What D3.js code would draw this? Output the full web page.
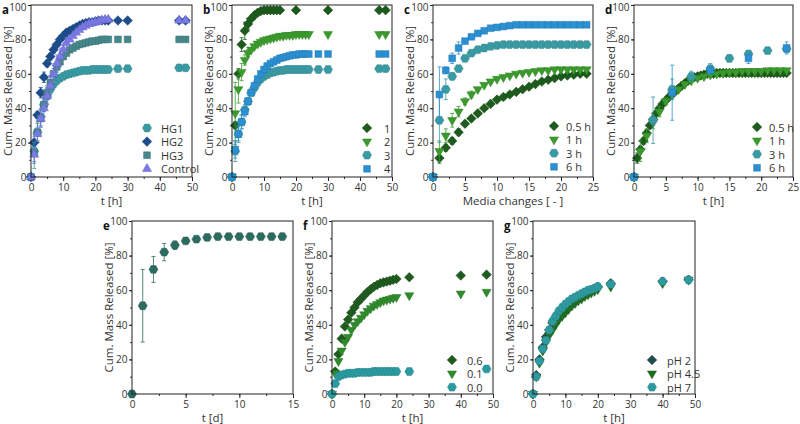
<!DOCTYPE html>
<html>
<head>
<meta charset="utf-8">
<script src="https://d3js.org/d3.v7.min.js"></script>
<style>
  body { margin: 0; background: #fff; }
  svg { display: block; font-family: "Open Sans", sans-serif; }
</style>
</head>
<body>
<svg id="chart" width="800" height="424"></svg>
<script>
// ---- data ----
// panel a
const aTime = [0,1,2,3,4,5,6,7,8,9,10,11,12,13,14,15,16,17,18,19,20,21,22,23,24,27,30,46,48];
const aHG1 = [0,15,26,35,42,47,51,54,56,57.5,58.5,59.5,60,60.5,61,61.5,62,62,62,62.5,62.5,62.5,62.5,62.5,62.5,63,63,63.5,63.5];
const aHG1Err = [0,10,6,5,4,4,3,2,2,2];
const aHG2 = [0,20,36,49,58,66,70,74,77,80,82,84,85,86,87,88,89,89.5,90,90,90.5,91,91,91,91,91,91,91,91];
const aHG2Err = [0,2,2,3,3,2,2,2];
const aHG3 = [0,14,26,34,42,49,55,60,64,67,70,72,74,75,76,77,77.5,78,78.5,79,79,79.5,80,80,80,80,80,80,80];
const aHG3Err = [0,6,5,5,4,4,4,3,3,3];
const aControl = [0,13,25,34,40,47,53,60,66,70,74,78,80,82,84,85.5,87,88,89,89.5,90,90.5,91,91.5,91.5,null,null,91,91];
const aControlErr = [0,4,4,5,5,5,5,5,5,5,4,3];

// panel b
const b1Time = [0,1,2,3,4,5,6,7,8,9,10,11,12,13,14,15,20,30,46,48];
const b1 = [0,30,60,77,85,89,92,94,95.5,96.5,97,97,97,97,97,97,97,97,97,97];
const b1Err = [0,2,3,4,5,3];
const b2Time = [0,1,2,3,4,5,6,7,8,9,10,11,12,13,14,15,16,17,18,19,20,21,22,23,24,30,46,48];
const b2 = [0,37,51,61,68,72,74,76,77.5,78.5,79.5,80,80.5,81,81.5,82,82,82.5,82.5,82.5,83,83,83,83,83,83,83,83];
const b2Err = [0,18,8,5,3,2];
const b34Time = [0,1,2,3,4,5,6,7,8,9,10,11,12,13,14,15,16,17,18,19,20,21,22,23,24,27,30,46,48];
const b3 = [0,15,25,32,39,44,49,52,55,57,58.5,59.5,60.5,61,61.5,62,62,62.5,62.5,62.5,62.5,62.5,62.5,62.5,62.5,62.5,62.5,63,63];
const b3Err = [0,6,5,4,3,2];
const b4 = [0,16,25,32,38,44,49,53,57,60,62.5,64.5,66,67,68,69,69.5,70,70.5,71,71,71.5,71.5,71.5,71.5,71.5,71.5,71.5,71.5];
const b4Err = [0,5,4,4,3,2];

// panel c (x = media changes)
const cChanges = [0,1,2,3,4,5,6,7,8,9,10,11,12,13,14,15,16,17,18,19,20,21,22,23,24];
const c05 = [0,11,17,21,26,31,34,37,40,42.5,45,46.5,48,49.5,51,52.5,54,55.5,56.5,57.5,58.5,59,59.5,60,60];
const c05Err = [0,3,2,2,2,1.5];
const c1 = [0,15,24,33,38,44,48,51,53.5,55.5,57,58,59,60,60.5,61,61.5,62,62,62.5,62.5,62.5,62.5,62.5,62.5];
const c1Err = [0,6,4,4,3,2,2];
const c3 = [0,33,51,58.5,63,69,72,74,75,76,76.5,77,77,77,77,77,77,77,77,77,77,77,77,77,77];
const c3Err = [0,13,6,2,1.5,1.5];
const c6 = [0,48,62,69,75,79,81.5,83.5,85,86.5,87,87.5,88,88.5,88.5,88.5,88.5,88.5,88.5,88.5,88.5,88.5,88.5,88.5,88.5];
const c6Err = [0,16,2,3,3.5,1];

// panel d (x = time)
const dHalfTime = [0,0.5,1,1.5,2,2.5,3,3.5,4,4.5,5,5.5,6,6.5,7,7.5,8,8.5,9,9.5,10,10.5,11,11.5,12,12.5,13,13.5,14,14.5,15,15.5,16,16.5,17,17.5,18,18.5,19,19.5,20,20.5,21,21.5,22,22.5,23,23.5,24];
const dHalf = [0,11,16,21,25.5,30,33.5,37,40,42.5,44.5,46.5,48,50,51.5,53,54.5,56,57,58,58.5,59,59.5,60,60,60,60.5,60.5,60.5,60.5,60.5,60.5,60.5,60.5,60.5,60.5,60.5,60.5,60.5,60.5,60.5,60.5,60.5,60.5,60.5,60.5,60.5,60.5,60.5];
const dHalfErr = [0,3,2,2,2,1.5];
const dOneTime = [0,1,2,3,4,5,6,7,8,9,10,11,12,13,14,15,16,17,18,19,20,21,22,23,24];
const dOne = [0,15,24,32,38,44,48,51,54,56,57.5,58.5,59.5,60,60.5,61,61,61.5,61.5,61.5,61.5,62,62,62,62];
const dOneErr = [0,6,4,4,3,2,2];
const dThreeTime = [0,3,6,9,12,15,18,21,24];
const dThree = [0,33,51,58.5,63,69,71.5,73.5,74.5];
const dThreeErr = [0,13.5,6,3,3,2,2,1.5,1];
const dSixTime = [0,6,12,18,24];
const dSix = [0,49,62,69,75];
const dSixErr = [0,16,2,3,3.5];

// panel e (x = days)
const eDay = [0,1,2,3,4,5,6,7,8,9,10,11,12,13,14];
const eVal = [0,51,72,82,86,88.5,89.5,90.5,91,91,91,91,91,91,91];
const eErr = [0,21,7.5,5,2.5,1,0.5];

// panel f
const fTime = [0,1,2,3,4,5,6,7,8,9,10,11,12,13,14,15,16,17,18,19,20,24,40,48];
const f06 = [0,13,23,32,39,43,47,50,53,55,57,59,60.5,62,63,64,64.5,65,65.5,66,66.5,67.5,68.5,69];
const f01 = [0,12,19,25,30,33,37,40,42,44,46,48,49.5,51,52,53,54,54.5,55,55.5,56,57,58,59];
const f00 = [0,6,10,11,11.5,12,12,12,12.5,12.5,12.5,12.5,12.5,13,13,13,13,13,13,13,13,13,null,14.5];

// panel g
const gTime = [0,1,2,3,4,5,6,7,8,9,10,11,12,13,14,15,16,17,18,19,20,24,40,48];
const gpH2 = [0,11,20,27,33,37,41,44,46.5,48.5,50.5,52,53.5,55,56,57,58,59,60,61,62,64,65,66];
const gpH45 = [0,10,18,25,30,34,37,40,43,45,47,49,51,52.5,54,55,56.5,57.5,58.5,59.5,60.5,62,64,66];
const gpH7 = [0,10,19,26,31,37,42,45,48,50,52,53.5,55,56,57,58,59,60,60.5,61,62,63.5,65,66];

// ---- colours ----
const cTeal = "#3a9aa3", cNavy = "#1c4d8a", cGrayTeal = "#45878a", cPurple = "#7b79e6";
const cDark = "#1d5a1d", cGreen = "#3a9a2c", cBlue = "#2b8fd1";

const panels = [
  { id: "a", left: 31, right: 192, top: 5, bottom: 177, xMax: 50, xStep: 10, xMinor: 5, xLabel: "t [h]",
    legend: { mx: 147, tx: 161, y0: 128, dy: 13.6 },
    series: [
      { name: "HG1", t: aTime, v: aHG1, e: aHG1Err, color: cTeal, shape: "hexagon" },
      { name: "HG2", t: aTime, v: aHG2, e: aHG2Err, color: cNavy, shape: "diamond" },
      { name: "HG3", t: aTime, v: aHG3, e: aHG3Err, color: cGrayTeal, shape: "square" },
      { name: "Control", t: aTime, v: aControl, e: aControlErr, color: cPurple, shape: "triangle" }
    ] },
  { id: "b", left: 232, right: 392, top: 5, bottom: 177, xMax: 50, xStep: 10, xMinor: 5, xLabel: "t [h]",
    legend: { mx: 367, tx: 384, y0: 128, dy: 13.6 },
    series: [
      { name: "1", t: b1Time, v: b1, e: b1Err, color: cDark, shape: "diamond" },
      { name: "2", t: b2Time, v: b2, e: b2Err, color: cGreen, shape: "triangleDown" },
      { name: "3", t: b34Time, v: b3, e: b3Err, color: cTeal, shape: "hexagon" },
      { name: "4", t: b34Time, v: b4, e: b4Err, color: cBlue, shape: "square" }
    ] },
  { id: "c", left: 433, right: 593, top: 5, bottom: 177, xMax: 25, xStep: 5, xMinor: 2.5, xLabel: "Media changes [ - ]",
    legend: { mx: 554, tx: 566, y0: 126, dy: 13.6 },
    series: [
      { name: "0.5 h", t: cChanges, v: c05, e: c05Err, color: cDark, shape: "diamond" },
      { name: "1 h", t: cChanges, v: c1, e: c1Err, color: cGreen, shape: "triangleDown" },
      { name: "3 h", t: cChanges, v: c3, e: c3Err, color: cTeal, shape: "hexagon" },
      { name: "6 h", t: cChanges, v: c6, e: c6Err, color: cBlue, shape: "square" }
    ] },
  { id: "d", left: 634, right: 793, top: 5, bottom: 177, xMax: 25, xStep: 5, xMinor: 2.5, xLabel: "t [h]",
    legend: { mx: 757, tx: 769, y0: 127, dy: 13.6 },
    series: [
      { name: "0.5 h", t: dHalfTime, v: dHalf, e: dHalfErr, color: cDark, shape: "diamond" },
      { name: "1 h", t: dOneTime, v: dOne, e: dOneErr, color: cGreen, shape: "triangleDown" },
      { name: "3 h", t: dThreeTime, v: dThree, e: dThreeErr, color: cTeal, shape: "hexagon" },
      { name: "6 h", t: dSixTime, v: dSix, e: dSixErr, color: cBlue, shape: "square" }
    ] },
  { id: "e", left: 132, right: 293, top: 221, bottom: 394, xMax: 15, xStep: 5, xMinor: 2.5, xLabel: "t [d]",
    legend: null,
    series: [
      { name: "", t: eDay, v: eVal, e: eErr, color: "#2c6b60", shape: "hexagon" }
    ] },
  { id: "f", left: 332, right: 493, top: 221, bottom: 394, xMax: 50, xStep: 10, xMinor: 5, xLabel: "t [h]",
    legend: { mx: 452, tx: 467, y0: 360, dy: 13.6 },
    series: [
      { name: "0.6", t: fTime, v: f06, e: [], color: "#1f5a1f", shape: "diamond" },
      { name: "0.1", t: fTime, v: f01, e: [], color: "#2e8a2a", shape: "triangleDown" },
      { name: "0.0", t: fTime, v: f00, e: [], color: "#2a9aa0", shape: "hexagon" }
    ] },
  { id: "g", left: 533, right: 695, top: 221, bottom: 394, xMax: 50, xStep: 10, xMinor: 5, xLabel: "t [h]",
    legend: { mx: 652, tx: 667, y0: 360, dy: 13.6 },
    series: [
      { name: "pH 2", t: gTime, v: gpH2, e: [], color: "#1e4d4d", shape: "diamond" },
      { name: "pH 4.5", t: gTime, v: gpH45, e: [], color: "#1f6e1f", shape: "triangleDown" },
      { name: "pH 7", t: gTime, v: gpH7, e: [], color: "#2e9aa0", shape: "hexagon" }
    ] }
];

const svg = d3.select("#chart");

// marker shapes
const hexR = 4.5;
const hexPath = "M" + d3.range(6).map(i => {
  const a = i * Math.PI / 3;
  return [hexR * Math.cos(a), hexR * Math.sin(a)].join(",");
}).join("L") + "Z";
const shapePath = {
  diamond: d3.symbol(d3.symbolSquare, 46)(),
  square: d3.symbol(d3.symbolSquare, 46)(),
  triangle: d3.symbol(d3.symbolTriangle, 36)(),
  triangleDown: d3.symbol(d3.symbolTriangle, 36)(),
  hexagon: hexPath
};
const shapeRot = { diamond: 45, square: 0, triangle: 0, triangleDown: 180, hexagon: 0 };

function marker(g, shape, x, y, color) {
  g.append("path")
    .attr("d", shapePath[shape])
    .attr("transform", `translate(${x},${y}) rotate(${shapeRot[shape]})`)
    .attr("fill", color)
    .attr("stroke", d3.color(color).darker(0.4))
    .attr("stroke-width", 0.5);
}

panels.forEach(p => {
  const x = d3.scaleLinear().domain([0, p.xMax]).range([p.left, p.right]);
  const y = d3.scaleLinear().domain([0, 100]).range([p.bottom, p.top]);
  const g = svg.append("g");

  // minor ticks
  g.append("g")
    .attr("transform", `translate(0,${p.bottom})`)
    .call(d3.axisBottom(x).tickValues(d3.range(0, p.xMax + 0.01, p.xMinor)).tickSize(2).tickFormat(""))
    .call(a => a.select(".domain").remove());
  g.append("g")
    .attr("transform", `translate(${p.left},0)`)
    .call(d3.axisLeft(y).tickValues(d3.range(0, 101, 10)).tickSize(1.8).tickFormat(""))
    .call(a => a.select(".domain").remove());

  // major ticks + labels
  const xa = g.append("g")
    .attr("transform", `translate(0,${p.bottom})`)
    .call(d3.axisBottom(x).tickValues(d3.range(0, p.xMax + 0.01, p.xStep)).tickSize(4).tickPadding(3));
  const ya = g.append("g")
    .attr("transform", `translate(${p.left},0)`)
    .call(d3.axisLeft(y).tickValues(d3.range(0, 101, 20)).tickSize(3).tickPadding(1.5));
  [xa, ya].forEach(a => {
    a.select(".domain").remove();
    a.selectAll("text").attr("font-size", 10).attr("fill", "#333").attr("font-family", "Open Sans, sans-serif");
  });
  // top row: keep the "100" label inside the page
  if (p.top < 10) ya.selectAll(".tick text").filter(d => d === 100).attr("dy", "0.55em");
  g.selectAll(".tick line").attr("stroke", "#222");

  // data
  const plot = g.append("g");
  p.series.forEach(s => {
    s.t.forEach((t, i) => {
      const v = s.v[i];
      if (v == null) return;
      const err = s.e[i];
      if (err) {
        const cx = x(t);
        plot.append("path")
          .attr("d", `M${cx},${y(v - err)}V${y(v + err)}M${cx - 2},${y(v - err)}H${cx + 2}M${cx - 2},${y(v + err)}H${cx + 2}`)
          .attr("stroke", s.color).attr("stroke-width", 0.8).attr("fill", "none");
      }
    });
    s.t.forEach((t, i) => {
      const v = s.v[i];
      if (v == null) return;
      marker(plot, s.shape, x(t), y(v), s.color);
    });
  });

  // frame
  g.append("rect")
    .attr("x", p.left).attr("y", p.top)
    .attr("width", p.right - p.left).attr("height", p.bottom - p.top)
    .attr("fill", "none").attr("stroke", "#222").attr("stroke-width", 1);

  // labels
  g.append("text")
    .attr("x", (p.left + p.right) / 2).attr("y", p.bottom + 28)
    .attr("text-anchor", "middle").attr("font-size", 11.5).attr("fill", "#333")
    .text(p.xLabel);
  g.append("text")
    .attr("transform", `translate(${p.left - 19},${(p.top + p.bottom) / 2}) rotate(-90)`)
    .attr("text-anchor", "middle").attr("font-size", 11.5).attr("fill", "#333")
    .text("Cum. Mass Released [%]");
  g.append("text")
    .attr("x", p.left - 29).attr("y", p.top + 9)
    .attr("font-size", 11.5).attr("font-weight", "bold").attr("fill", "#111")
    .text(p.id);

  // legend
  if (p.legend) {
    p.series.forEach((s, i) => {
      const ly = p.legend.y0 + i * p.legend.dy;
      marker(g, s.shape, p.legend.mx, ly, s.color);
      g.append("text")
        .attr("x", p.legend.tx).attr("y", ly)
        .attr("dominant-baseline", "central")
        .attr("font-size", 11).attr("fill", "#333")
        .text(s.name);
    });
  }
});
</script>
</body>
</html>
